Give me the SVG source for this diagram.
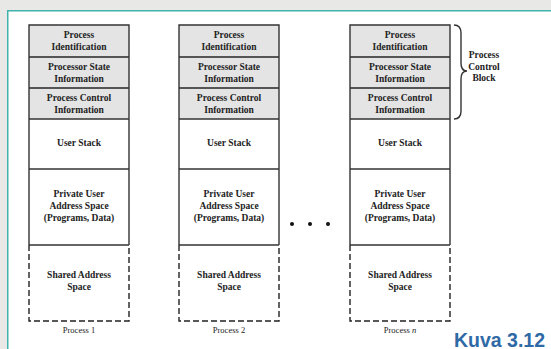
<svg xmlns="http://www.w3.org/2000/svg" width="551" height="349" viewBox="0 0 551 349">
<defs>
<style>
.bg{fill:#e8e8e6}
.panel{fill:#ffffff;stroke:#3fb3ac;stroke-width:1.5}
.hdr{fill:#e4e4e4;stroke:none}
.body{fill:#ffffff;stroke:none}
.ln{stroke:#333;stroke-width:1.4;fill:none}
.div{stroke:#555;stroke-width:1.8;fill:none}
.dash{stroke:#222;stroke-width:1.4;fill:none;stroke-dasharray:6 3}
.t{font-family:"Liberation Serif","Times New Roman",serif;font-size:9.5px;font-weight:bold;fill:#222;text-anchor:middle}
.lbl{font-family:"Liberation Serif","Times New Roman",serif;font-size:8.5px;fill:#222;text-anchor:middle}
.kuva{font-family:"Liberation Sans",Arial,sans-serif;font-size:19.5px;font-weight:bold;fill:#2f6aa6}
</style>
</defs>
<rect class="bg" x="0" y="0" width="551" height="349"/>
<rect class="panel" x="7.75" y="10.75" width="560" height="360"/>
<g id="process1" transform="translate(29,0)">
<rect class="hdr" x="0" y="25" width="100" height="94"/>
<rect class="body" x="0" y="119" width="100" height="202"/>
<line class="div" x1="0" y1="57" x2="100" y2="57"/>
<line class="div" x1="0" y1="88" x2="100" y2="88"/>
<line class="ln" x1="0" y1="119" x2="100" y2="119"/>
<line class="ln" x1="0" y1="169" x2="100" y2="169"/>
<line class="ln" x1="0" y1="245" x2="100" y2="245"/>
<polyline class="ln" points="0,245 0,25 100,25 100,245"/>
<polyline class="dash" points="0,245 0,321 100,321 100,245"/>
<text class="t" x="50" y="37.5">Process</text>
<text class="t" x="50" y="49.5">Identification</text>
<text class="t" x="50" y="69.5">Processor State</text>
<text class="t" x="50" y="81.5">Information</text>
<text class="t" x="50" y="100.5">Process Control</text>
<text class="t" x="50" y="112.5">Information</text>
<text class="t" x="50" y="145.5">User Stack</text>
<text class="t" x="50" y="196.5">Private User</text>
<text class="t" x="50" y="208.5">Address Space</text>
<text class="t" x="50" y="220.5">(Programs, Data)</text>
<text class="t" x="50" y="277.5">Shared Address</text>
<text class="t" x="50" y="289.5">Space</text>
<text class="lbl" x="50" y="333">Process 1</text>
</g>
<g id="process2" transform="translate(179,0)">
<rect class="hdr" x="0" y="25" width="100" height="94"/>
<rect class="body" x="0" y="119" width="100" height="202"/>
<line class="div" x1="0" y1="57" x2="100" y2="57"/>
<line class="div" x1="0" y1="88" x2="100" y2="88"/>
<line class="ln" x1="0" y1="119" x2="100" y2="119"/>
<line class="ln" x1="0" y1="169" x2="100" y2="169"/>
<line class="ln" x1="0" y1="245" x2="100" y2="245"/>
<polyline class="ln" points="0,245 0,25 100,25 100,245"/>
<polyline class="dash" points="0,245 0,321 100,321 100,245"/>
<text class="t" x="50" y="37.5">Process</text>
<text class="t" x="50" y="49.5">Identification</text>
<text class="t" x="50" y="69.5">Processor State</text>
<text class="t" x="50" y="81.5">Information</text>
<text class="t" x="50" y="100.5">Process Control</text>
<text class="t" x="50" y="112.5">Information</text>
<text class="t" x="50" y="145.5">User Stack</text>
<text class="t" x="50" y="196.5">Private User</text>
<text class="t" x="50" y="208.5">Address Space</text>
<text class="t" x="50" y="220.5">(Programs, Data)</text>
<text class="t" x="50" y="277.5">Shared Address</text>
<text class="t" x="50" y="289.5">Space</text>
<text class="lbl" x="50" y="333">Process 2</text>
</g>
<g id="processn" transform="translate(350,0)">
<rect class="hdr" x="0" y="25" width="100" height="94"/>
<rect class="body" x="0" y="119" width="100" height="202"/>
<line class="div" x1="0" y1="57" x2="100" y2="57"/>
<line class="div" x1="0" y1="88" x2="100" y2="88"/>
<line class="ln" x1="0" y1="119" x2="100" y2="119"/>
<line class="ln" x1="0" y1="169" x2="100" y2="169"/>
<line class="ln" x1="0" y1="245" x2="100" y2="245"/>
<polyline class="ln" points="0,245 0,25 100,25 100,245"/>
<polyline class="dash" points="0,245 0,321 100,321 100,245"/>
<text class="t" x="50" y="37.5">Process</text>
<text class="t" x="50" y="49.5">Identification</text>
<text class="t" x="50" y="69.5">Processor State</text>
<text class="t" x="50" y="81.5">Information</text>
<text class="t" x="50" y="100.5">Process Control</text>
<text class="t" x="50" y="112.5">Information</text>
<text class="t" x="50" y="145.5">User Stack</text>
<text class="t" x="50" y="196.5">Private User</text>
<text class="t" x="50" y="208.5">Address Space</text>
<text class="t" x="50" y="220.5">(Programs, Data)</text>
<text class="t" x="50" y="277.5">Shared Address</text>
<text class="t" x="50" y="289.5">Space</text>
<text class="lbl" x="50" y="333">Process <tspan font-style="italic">n</tspan></text>
</g>
<g id="ellipsis" fill="#111">
<circle cx="292" cy="224" r="2"/>
<circle cx="310" cy="224" r="2"/>
<circle cx="328" cy="224" r="2"/>
</g>
<g id="pcb">
<path class="ln" d="M454,25 Q461,25 461,33 L461,63 Q461,71 467,71 Q461,71 461,79 L461,111 Q461,119 454,119"/>
<text class="t" x="484" y="58">Process</text>
<text class="t" x="484" y="70">Control</text>
<text class="t" x="484" y="81">Block</text>
</g>
<text class="kuva" x="454" y="346.5">Kuva 3.12</text>
</svg>
